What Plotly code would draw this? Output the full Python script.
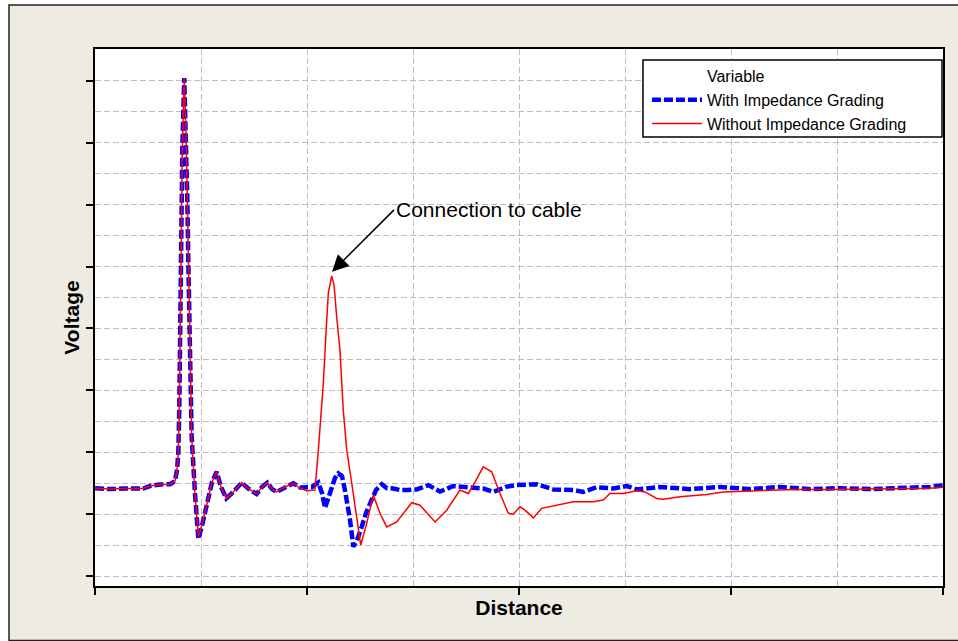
import plotly.graph_objects as go

# ---- data (x in grid units of Distance, y in grid units of Voltage) ----
distance_with = [0.000, 0.142, 0.283, 0.453, 0.519, 0.613, 0.708, 0.755, 0.774, 0.786, 0.795, 0.802,
                 0.808, 0.816, 0.824, 0.842, 0.858, 0.871, 0.880, 0.896, 0.912, 0.943, 0.975, 1.009,
                 1.054, 1.104, 1.148, 1.189, 1.239, 1.302, 1.384, 1.453, 1.525, 1.575, 1.625, 1.670,
                 1.714, 1.792, 1.871, 1.934, 1.997, 2.047, 2.107, 2.142, 2.170, 2.198, 2.233, 2.264,
                 2.295, 2.330, 2.358, 2.406, 2.437, 2.472, 2.516, 2.557, 2.610, 2.651, 2.705, 2.755,
                 2.814, 2.877, 2.941, 3.035, 3.145, 3.255, 3.380, 3.538, 3.663, 3.758, 3.884, 3.978,
                 4.167, 4.324, 4.512, 4.606, 4.733, 4.890, 5.016, 5.110, 5.330, 5.610, 5.900, 6.180,
                 6.460, 6.750, 7.030, 7.310, 7.590, 7.880, 8.000]
voltage_with = [2.84, 2.81, 2.83, 2.83, 2.91, 2.96, 2.97, 3.07, 3.43, 4.01, 5.37, 8.05,
                10.21, 12.48, 13.83, 16.09, 14.42, 12.15, 10.21, 7.30, 4.50, 2.68, 1.20, 1.62,
                2.36, 3.04, 3.37, 2.88, 2.51, 2.71, 3.02, 2.81, 2.65, 2.88, 3.02, 2.81,
                2.72, 2.88, 3.00, 2.86, 2.89, 2.88, 3.02, 2.68, 2.20, 2.46, 2.78, 3.17,
                3.32, 3.23, 2.78, 1.81, 0.95, 1.16, 1.59, 2.04, 2.46, 2.78, 2.97, 2.84,
                2.83, 2.78, 2.78, 2.80, 2.94, 2.73, 2.91, 2.87, 2.83, 2.72, 2.89, 2.94,
                2.97, 2.80, 2.78, 2.72, 2.87, 2.83, 2.91, 2.80, 2.88, 2.81, 2.88, 2.81,
                2.88, 2.81, 2.84, 2.81, 2.84, 2.88, 2.94]

distance_without = [0.000, 0.142, 0.283, 0.453, 0.519, 0.613, 0.708, 0.755, 0.774, 0.786, 0.795, 0.802,
                    0.808, 0.816, 0.824, 0.842, 0.858, 0.871, 0.880, 0.896, 0.912, 0.943, 0.975, 1.009,
                    1.054, 1.104, 1.148, 1.189, 1.239, 1.302, 1.384, 1.453, 1.525, 1.575, 1.625, 1.670,
                    1.714, 1.792, 1.871, 1.934, 1.997, 2.075, 2.107, 2.154, 2.179, 2.201, 2.233, 2.255,
                    2.280, 2.311, 2.342, 2.375, 2.422, 2.469, 2.507, 2.563, 2.625, 2.689, 2.752, 2.846,
                    2.988, 3.066, 3.208, 3.318, 3.443, 3.522, 3.569, 3.663, 3.742, 3.821, 3.899, 3.946,
                    4.009, 4.057, 4.135, 4.214, 4.324, 4.512, 4.701, 4.795, 4.858, 4.984, 5.110, 5.189,
                    5.299, 5.361, 5.519, 5.770, 5.927, 6.148, 6.305, 6.620, 6.934, 7.248, 7.563, 7.877,
                    8.000]
voltage_without = [2.84, 2.81, 2.83, 2.83, 2.91, 2.96, 2.97, 3.07, 3.43, 4.01, 5.37, 8.05,
                   10.21, 12.48, 13.83, 16.09, 14.42, 12.15, 10.21, 7.30, 4.50, 2.68, 1.27, 1.65,
                   2.36, 3.04, 3.37, 2.88, 2.51, 2.71, 3.02, 2.81, 2.65, 2.88, 3.02, 2.81,
                   2.72, 2.88, 3.00, 2.84, 2.76, 2.78, 4.07, 6.23, 7.84, 9.14, 9.70, 9.41,
                   8.38, 7.30, 5.37, 4.07, 3.00, 1.92, 1.00, 1.70, 2.62, 2.03, 1.59, 1.75,
                   2.37, 2.29, 1.75, 2.13, 2.78, 2.67, 2.94, 3.53, 3.37, 2.67, 2.03, 2.00,
                   2.24, 2.13, 1.88, 2.19, 2.26, 2.40, 2.40, 2.46, 2.67, 2.67, 2.76, 2.72,
                   2.51, 2.48, 2.56, 2.64, 2.72, 2.75, 2.76, 2.80, 2.80, 2.81, 2.82, 2.84,
                   2.87]

series_names = ["With Impedance Grading", "Without Impedance Grading"]
legend_title = "Variable"
annotation_text = "Connection to cable"
annotation_point = (2.236, 9.83)
x_title = "Distance"
y_title = "Voltage"

FONT = "Liberation Sans, Arial, sans-serif"
BEIGE = "#EEEBE2"
GRID = "#BEBEBE"

fig = go.Figure()

# invisible entry acting as legend header
fig.add_trace(go.Scatter(x=[None], y=[None], mode="lines", name=legend_title,
                         line=dict(color="rgba(0,0,0,0)", width=1), hoverinfo="skip"))
fig.add_trace(go.Scatter(x=distance_with, y=voltage_with, mode="lines", name=series_names[0],
                         line=dict(color="#0000FF", width=4.5, dash="9px,3px")))
fig.add_trace(go.Scatter(x=distance_without, y=voltage_without, mode="lines", name=series_names[1],
                         line=dict(color="#FF0000", width=1.5)))

axis_common = dict(
    showline=True, linecolor="black", linewidth=2, mirror=True,
    showgrid=True, gridcolor=GRID, gridwidth=1.4, griddash="6px,3px",
    ticks="outside", ticklen=7, tickwidth=1.5, tickcolor="black",
    showticklabels=False, zeroline=False,
)

fig.update_xaxes(range=[0, 8], tick0=0, dtick=2,
                 minor=dict(dtick=1, tick0=0, showgrid=True, gridcolor=GRID, gridwidth=1.4,
                            griddash="6px,3px", ticks=""),
                 title=dict(text=x_title, font=dict(family=FONT, size=21, color="black", weight="bold"),
                            standoff=6),
                 **axis_common)
fig.update_yaxes(range=[-0.32, 17.03], tick0=0, dtick=2,
                 minor=dict(dtick=1, tick0=0, showgrid=True, gridcolor=GRID, gridwidth=1.4,
                            griddash="6px,3px", ticks=""),
                 title=dict(text=y_title, font=dict(family=FONT, size=21, color="black", weight="bold"),
                            standoff=1),
                 **axis_common)

fig.add_annotation(x=annotation_point[0], y=annotation_point[1], xref="x", yref="y",
                   text=annotation_text, showarrow=True, arrowhead=2, arrowsize=2.2,
                   arrowwidth=1.5, arrowcolor="black", ax=62, ay=-62,
                   xanchor="left", yanchor="middle",
                   font=dict(family=FONT, size=21, color="black"))

# white strips outside the outer frame (top and left), then the frame border
fig.add_shape(type="rect", xref="paper", yref="paper", x0=-0.2, x1=1.1, y0=1.0819, y1=1.2,
              line=dict(width=0), fillcolor="white", layer="below")
fig.add_shape(type="rect", xref="paper", yref="paper", x0=-0.2, x1=-0.1014, y0=-0.2, y1=1.2,
              line=dict(width=0), fillcolor="white", layer="below")
fig.add_shape(type="rect", xref="paper", yref="paper", x0=-0.1014, x1=1.06, y0=-0.1015, y1=1.0819,
              line=dict(color="#222222", width=1.5), fillcolor="rgba(0,0,0,0)", layer="below")
# legend box (white, black border) drawn above the traces, under the legend entries
fig.add_shape(type="rect", xref="paper", yref="paper", x0=0.6462, x1=0.9988, y0=0.8361, y1=0.9795,
              line=dict(color="black", width=1.5), fillcolor="white", layer="above")

fig.update_layout(
    width=958, height=641,
    margin=dict(l=95, r=15, t=49, b=55),
    paper_bgcolor=BEIGE, plot_bgcolor="white",
    font=dict(family=FONT, color="black"),
    showlegend=True,
    legend=dict(x=0.6509, y=0.9814, xanchor="left", yanchor="top",
                bgcolor="rgba(0,0,0,0)", borderwidth=0,
                font=dict(family=FONT, size=16, color="black"),
                itemwidth=50, tracegroupgap=0),
)

fig.write_html("out.html")
